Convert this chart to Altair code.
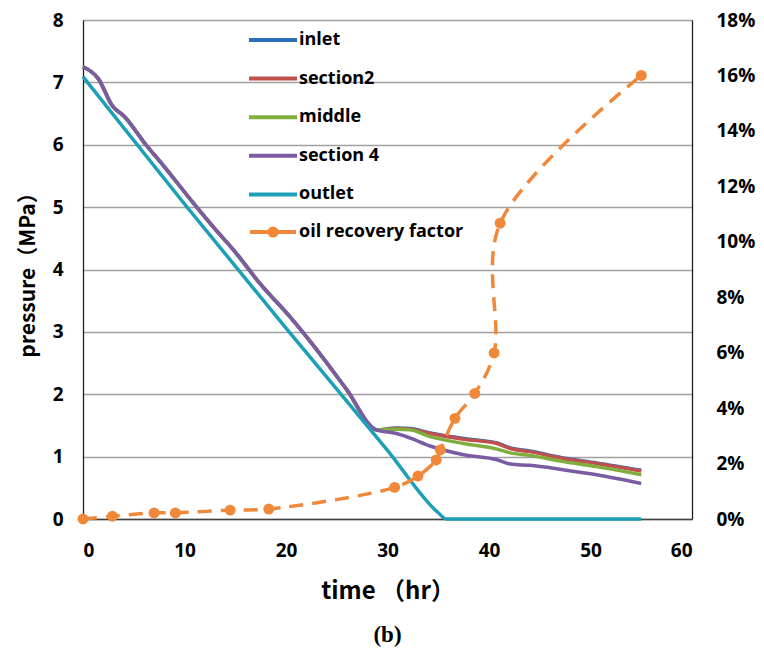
import altair as alt
import pandas as pd

# ---------------- data ----------------
SERIES = ["inlet", "section2", "middle", "section 4", "outlet"]
OIL_NAME = "oil recovery factor"
COLORS = ["#2A6EBB", "#C0504D", "#7FAE3E", "#7B5BA4", "#1CA0B8"]
ORANGE = "#F0883A"

# common falling part shared by inlet / section2 / middle / section 4
t_common = [0, 1.5, 2.9, 4.1, 6.1, 8.0, 10.9, 13.0, 15.1, 17.4, 20.4, 23.0, 26.0, 28.9]
p_common = [7.25, 7.06, 6.62, 6.45, 6.02, 5.65, 5.06, 4.65, 4.26, 3.78, 3.24, 2.72, 2.07, 1.43]

t_tail = [30.9, 32.2, 34.2, 37.5, 40.8, 42.1, 44.0, 47.3, 50.6, 55.0]
inlet_tail = [1.46, 1.45, 1.38, 1.29, 1.22, 1.14, 1.09, 0.98, 0.90, 0.78]
section2_tail = [1.45, 1.44, 1.37, 1.28, 1.21, 1.13, 1.08, 0.97, 0.89, 0.77]
middle_tail = [1.44, 1.43, 1.32, 1.21, 1.12, 1.06, 1.02, 0.92, 0.84, 0.71]
section4_tail = [1.37, 1.30, 1.17, 1.03, 0.95, 0.88, 0.86, 0.79, 0.71, 0.57]

t_outlet = [0, 10, 20, 30, 35.0, 35.8, 55.0]
p_outlet = [7.09, 5.05, 3.06, 1.10, 0.10, 0.0, 0.0]

t_oil = [0, 2.9, 7.0, 9.1, 14.5, 18.3, 30.7, 33.0, 34.8, 35.2, 36.65, 38.6, 40.5, 41.1, 55.0]
oil_pct = [0, 0.1, 0.22, 0.22, 0.32, 0.36, 1.14, 1.55, 2.13, 2.49, 3.63, 4.53, 5.99, 10.67, 16.0]

x_ticks = [0, 10, 20, 30, 40, 50, 60]
y_ticks = [0, 1, 2, 3, 4, 5, 6, 7, 8]
y2_ticks = [0, 0.02, 0.04, 0.06, 0.08, 0.10, 0.12, 0.14, 0.16, 0.18]

# ---------------- tables ----------------
rows = []
tails = {"inlet": inlet_tail, "section2": section2_tail,
         "middle": middle_tail, "section 4": section4_tail}
for name in SERIES[:4]:
    for t, p in zip(t_common + t_tail, p_common + tails[name]):
        rows.append({"time": t, "pressure": p, "series": name})
for t, p in zip(t_outlet, p_outlet):
    rows.append({"time": t, "pressure": p, "series": "outlet"})
df_p = pd.DataFrame(rows)

df_o = pd.DataFrame({"time": t_oil, "recovery": [v / 100 for v in oil_pct],
                     "series": OIL_NAME})

# ---------------- styling ----------------
LABEL_FONT = "Open Sans"
TITLE_FONT = "Noto Sans CJK SC"
LINE_PATH = "M-2.4,0H2.4"
# line with a small thick-stroked ring in the middle (reads as a dot)
OIL_PATH = "M-2.3,0H2.3M0.36,0A0.36,0.36,0,1,1,-0.36,0A0.36,0.36,0,1,1,0.36,0Z"

legend_common = dict(
    title=None, orient="none", symbolSize=400, symbolStrokeWidth=4,
    labelFont=LABEL_FONT, labelFontSize=18, labelFontWeight="bold",
    labelColor="black", labelOffset=14, padding=0, symbolOpacity=1, labelLimit=400,
)
color_legend = alt.Legend(legendX=178, legendY=8, symbolType=LINE_PATH,
                          rowPadding=17.6, **legend_common)
oil_legend = alt.Legend(legendX=178, legendY=200,
                        symbolFillColor="transparent", symbolStrokeColor=ORANGE,
                        **legend_common)

x_axis = alt.Axis(
    values=x_ticks, title="time （hr）", grid=False, ticks=False, tickSize=0,
    labelFont=LABEL_FONT, labelFontSize=19, labelFontWeight="bold", labelColor="black",
    labelPadding=22, domainColor="#404040", domainWidth=1.3,
    titleFont=TITLE_FONT, titleFontSize=24, titleFontWeight="bold", titleColor="black",
    titlePadding=19,
)
x_enc = alt.X("time:Q", scale=alt.Scale(domain=[0, 60], nice=False), axis=x_axis)

y_axis = alt.Axis(
    values=y_ticks, title="pressure（MPa）", grid=True, gridColor="#A0A0A0", gridWidth=1.4,
    ticks=False, tickSize=0, labelFont=LABEL_FONT, labelFontSize=19, labelFontWeight="bold",
    labelColor="black", labelPadding=20, domainColor="#202020", domainWidth=1.3,
    titleFont=TITLE_FONT, titleFontSize=21, titleFontWeight="bold", titleColor="black",
    titlePadding=14,
)
y2_axis = alt.Axis(
    values=y2_ticks, format=".0%", orient="right", title=None, grid=False,
    ticks=False, tickSize=0, labelFont=LABEL_FONT, labelFontSize=19, labelFontWeight="bold",
    labelColor="black", labelPadding=24, domainColor="#202020", domainWidth=1.3,
)

pressure = alt.Chart(df_p).mark_line(strokeWidth=3.5, interpolate="monotone").encode(
    x=x_enc,
    y=alt.Y("pressure:Q", scale=alt.Scale(domain=[0, 8], nice=False), axis=y_axis),
    color=alt.Color("series:N", scale=alt.Scale(domain=SERIES, range=COLORS),
                    sort=SERIES, legend=color_legend),
)

y2_enc = alt.Y("recovery:Q", scale=alt.Scale(domain=[0, 0.18], nice=False), axis=y2_axis)
oil_line = alt.Chart(df_o).mark_line(
    strokeWidth=3.5, strokeDash=[14, 9], interpolate="catmull-rom", color=ORANGE
).encode(x=x_enc, y=y2_enc)
oil_pts = alt.Chart(df_o).mark_point(filled=True, size=120, opacity=1, color=ORANGE).encode(
    x=x_enc, y=y2_enc,
)
# invisible carrier of the legend entry for the recovery factor series
oil_key = alt.Chart(df_o).mark_point(filled=False, opacity=0, color=ORANGE).encode(
    x=x_enc, y=y2_enc,
    shape=alt.Shape("series:N", scale=alt.Scale(domain=[OIL_NAME], range=[OIL_PATH]),
                    legend=oil_legend),
)
oil = alt.layer(oil_line, oil_pts, oil_key)

chart = alt.layer(pressure, oil).resolve_scale(y="independent").properties(
    width=609, height=499,
    autosize=alt.AutoSizeParams(type="none"),
    padding={"left": 83, "top": 20, "right": 72, "bottom": 136},
    title=alt.TitleParams("(b)", orient="bottom", font="Liberation Serif", fontSize=23,
                          fontWeight="bold", color="black", offset=21, anchor="middle"),
).configure_view(stroke="#404040", strokeWidth=1.3).configure(background="white")

chart.save("out.html", embed_options={"renderer": "svg", "actions": False})
